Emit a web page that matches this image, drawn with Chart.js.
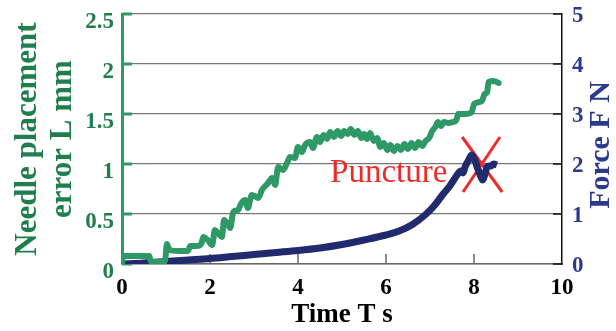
<!DOCTYPE html>
<html lang="en">
<head>
<meta charset="UTF-8">
<title>Needle placement error and force</title>
<script src="https://cdn.jsdelivr.net/npm/chart.js"></script>
<style>
  html, body { margin: 0; padding: 0; background: #fff; }
</style>
</head>
<body>
<canvas id="myChart" width="616" height="331"></canvas>
<script>
// time axis [s] and tick labels
const timeTicks = [0, 2, 4, 6, 8, 10];
const errorTicks = [0, 0.5, 1, 1.5, 2, 2.5];
const forceTicks = [0, 1, 2, 3, 4, 5];

// needle placement error L [mm]
const errorTime = [0, 0.02, 0.3, 0.62, 0.66, 0.9, 0.98, 1.02, 1.08, 1.3, 1.5, 1.55, 1.7, 1.8, 1.85, 1.95, 2.05, 2.11, 2.2, 2.27,
  2.32, 2.4, 2.46, 2.53, 2.64, 2.7, 2.8, 2.86, 2.95, 3.05, 3.1, 3.18, 3.32, 3.41, 3.48, 3.55, 3.66, 3.75, 3.82, 3.93,
  4.0, 4.09, 4.16, 4.27, 4.34, 4.43, 4.5, 4.58, 4.66, 4.73, 4.82, 4.9, 4.98, 5.05, 5.13, 5.2, 5.28, 5.36, 5.44, 5.5,
  5.57, 5.64, 5.72, 5.8, 5.87, 5.95, 6.03, 6.1, 6.18, 6.26, 6.34, 6.42, 6.5, 6.58, 6.66, 6.74, 6.82, 6.9, 6.98, 7.05,
  7.12, 7.18, 7.25, 7.32, 7.42, 7.52, 7.6, 7.64, 7.8, 7.95, 8.0, 8.18, 8.24, 8.3, 8.33, 8.45, 8.56];
const errorValues = [0, 0.08, 0.08, 0.08, 0.02, 0.02, 0.03, 0.2, 0.14, 0.13, 0.13, 0.18, 0.18, 0.2, 0.27, 0.24, 0.19, 0.34, 0.3, 0.27,
  0.44, 0.4, 0.36, 0.52, 0.54, 0.6, 0.64, 0.56, 0.69, 0.67, 0.66, 0.74, 0.81, 0.86, 0.79, 0.97, 0.94, 1.01, 1.07, 1.06,
  1.17, 1.12, 1.19, 1.22, 1.16, 1.27, 1.22, 1.29, 1.25, 1.32, 1.27, 1.33, 1.28, 1.33, 1.3, 1.35, 1.29, 1.33, 1.26, 1.3,
  1.25, 1.31, 1.23, 1.26, 1.17, 1.21, 1.14, 1.19, 1.13, 1.18, 1.14, 1.2, 1.15, 1.21, 1.16, 1.22, 1.18, 1.23, 1.26, 1.33,
  1.37, 1.42, 1.38, 1.42, 1.41, 1.42, 1.44, 1.5, 1.5, 1.52, 1.6, 1.63, 1.7, 1.72, 1.82, 1.83, 1.81];

// force F [N]
const forceTime = [0, 0.5, 1, 1.5, 2, 2.5, 3, 3.5, 4, 4.5, 5, 5.5, 6, 6.3, 6.6, 6.9, 7.1, 7.3, 7.45, 7.6,
  7.7, 7.75, 7.8, 7.88, 7.95, 8.02, 8.08, 8.14, 8.2, 8.25, 8.3, 8.38, 8.45, 8.52];
const forceValues = [0, 0.02, 0.05, 0.08, 0.11, 0.15, 0.19, 0.23, 0.27, 0.32, 0.39, 0.48, 0.58, 0.66, 0.79, 0.99, 1.17, 1.4, 1.56, 1.76,
  1.86, 1.82, 1.95, 2.08, 2.18, 2.08, 1.92, 1.78, 1.68, 1.8, 1.95, 1.96, 2.0, 1.98];

// puncture annotation
const punctureLabel = 'Puncture';
const punctureAt = [4.73, 1.64];
const crossA = [[7.73, 2.54], [8.64, 1.44]];
const crossB = [[8.59, 2.54], [7.75, 1.44]];
const forceTitle = 'Force F N';

const green = '#2e9966';
const greenText = '#1f7f4c';
const navy = '#222a6e';
const blueText = '#2d3a8c';
const red = '#ef2a2a';
const serif = "'Liberation Serif', 'Times New Roman', serif";

const toPoints = (xs, ys) => xs.map((x, i) => ({ x: x, y: ys[i] }));
const pairPoints = (p) => p.map(q => ({ x: q[0], y: q[1] }));
const noPad = s => { s.paddingTop = 0; s.paddingBottom = 0; s.paddingLeft = 0; s.paddingRight = 0; };

// short tick marks pointing into the plot, the red label and the right title
const extras = {
  id: 'extras',
  beforeDatasetsDraw(chart) {
    const ctx = chart.ctx;
    const area = chart.chartArea;
    const sx = chart.scales.x, sl = chart.scales.yL, sr = chart.scales.yR;
    ctx.save();
    ctx.strokeStyle = '#666';
    ctx.lineWidth = 1.5;
    timeTicks.slice(1, -1).forEach(v => {
      const px = sx.getPixelForValue(v);
      ctx.beginPath(); ctx.moveTo(px, area.bottom); ctx.lineTo(px, area.bottom - 10); ctx.stroke();
    });
    ctx.strokeStyle = green;
    ctx.lineWidth = 3;
    errorTicks.forEach(v => {
      const py = sl.getPixelForValue(v);
      ctx.beginPath(); ctx.moveTo(area.left, py); ctx.lineTo(area.left + 10, py); ctx.stroke();
    });
    ctx.strokeStyle = '#111';
    ctx.lineWidth = 1.5;
    forceTicks.forEach(v => {
      const py = sr.getPixelForValue(v);
      ctx.beginPath(); ctx.moveTo(area.right, py); ctx.lineTo(area.right - 9, py); ctx.stroke();
    });
    ctx.restore();
  },
  afterDatasetsDraw(chart) {
    const ctx = chart.ctx;
    ctx.save();
    ctx.fillStyle = red;
    ctx.font = '33px ' + serif;
    ctx.textAlign = 'left';
    ctx.textBaseline = 'alphabetic';
    ctx.fillText(punctureLabel, chart.scales.x.getPixelForValue(punctureAt[0]), chart.scales.yR.getPixelForValue(punctureAt[1]));
    ctx.restore();

    ctx.save();
    ctx.translate(601, 145);
    ctx.rotate(-Math.PI / 2);
    ctx.fillStyle = blueText;
    ctx.font = 'bold 30px ' + serif;
    ctx.textAlign = 'center';
    ctx.textBaseline = 'middle';
    ctx.fillText(forceTitle, 0, 0);
    ctx.restore();
  }
};

const ctx = document.getElementById('myChart');

new Chart(ctx, {
  type: 'line',
  data: {
    datasets: [{
      label: 'Needle placement error',
      data: toPoints(errorTime, errorValues),
      yAxisID: 'yL',
      borderColor: green,
      borderWidth: 6,
      borderJoinStyle: 'round',
      borderCapStyle: 'round',
      pointRadius: 0,
      cubicInterpolationMode: 'monotone'
    }, {
      label: 'Force',
      data: toPoints(forceTime, forceValues),
      yAxisID: 'yR',
      borderColor: navy,
      borderWidth: 7,
      borderJoinStyle: 'round',
      pointRadius: 0,
      cubicInterpolationMode: 'monotone'
    }, {
      label: 'cross a',
      data: pairPoints(crossA),
      yAxisID: 'yR',
      borderColor: red,
      borderWidth: 3,
      pointRadius: 0
    }, {
      label: 'cross b',
      data: pairPoints(crossB),
      yAxisID: 'yR',
      borderColor: red,
      borderWidth: 3,
      pointRadius: 0
    }]
  },
  options: {
    responsive: false,
    animation: false,
    devicePixelRatio: 1,
    layout: { padding: { top: 14, left: 0, right: 0, bottom: 0 } },
    plugins: { legend: { display: false }, tooltip: { enabled: false } },
    scales: {
      x: {
        type: 'linear',
        min: 0,
        max: 10,
        afterBuildTicks: s => { s.ticks = timeTicks.map(v => ({ value: v })); },
        afterFit: s => { s.height = 67; noPad(s); },
        grid: { display: false },
        border: { color: '#666', width: 1.5 },
        ticks: { color: '#000', padding: 2, font: { family: serif, size: 23, weight: 'bold' }, callback: v => String(v) },
        title: {
          display: true,
          text: 'Time T s',
          color: '#000',
          padding: { top: 0, bottom: 2.5 },
          font: { family: serif, size: 27, weight: 'bold', lineHeight: 1 }
        }
      },
      yL: {
        type: 'linear',
        position: 'left',
        min: 0,
        max: 2.5,
        afterBuildTicks: s => { s.ticks = errorTicks.map(v => ({ value: v })); },
        afterFit: s => { s.width = 122; noPad(s); },
        grid: { color: '#777', lineWidth: 1.2, drawTicks: false },
        border: { color: green, width: 3 },
        ticks: { color: greenText, padding: 8, labelOffset: 8, font: { family: serif, size: 23, weight: 'bold' }, callback: v => String(v) },
        title: {
          display: true,
          text: ['Needle placement', 'error L mm'],
          color: greenText,
          padding: { top: 10.5, bottom: 0 },
          font: { family: serif, size: 31, weight: 'bold', lineHeight: 35 / 31 }
        }
      },
      yR: {
        type: 'linear',
        position: 'right',
        min: 0,
        max: 5,
        afterBuildTicks: s => { s.ticks = forceTicks.map(v => ({ value: v })); },
        afterFit: s => { s.width = 54; noPad(s); },
        grid: { drawOnChartArea: false, drawTicks: false },
        border: { color: '#111', width: 1.5 },
        ticks: { color: blueText, padding: 10, labelOffset: 2, font: { family: serif, size: 23, weight: 'bold' }, callback: v => String(v) }
      }
    }
  },
  plugins: [extras]
});
</script>
</body>
</html>
